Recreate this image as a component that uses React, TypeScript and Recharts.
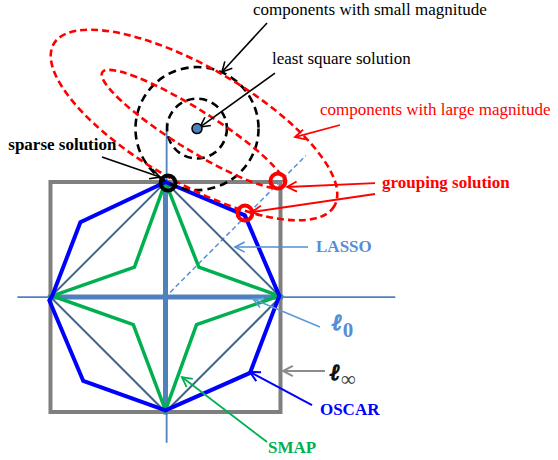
import React from 'react';
import { ComposedChart, Line, XAxis, YAxis, ReferenceLine, ReferenceDot } from 'recharts';

// coordinates are in units of the l-infinity box half width, origin at the box centre
const linfBox = [{ x: -1, y: 1 }, { x: 1, y: 1 }, { x: 1, y: -1 }, { x: -1, y: -1 }, { x: -1, y: 1 }];
const lassoBall = [{ x: 0, y: 1 }, { x: 1, y: 0 }, { x: 0, y: -1 }, { x: -1, y: 0 }, { x: 0, y: 1 }];
const oscarBall = [
  { x: 0, y: 1 }, { x: 0.69, y: 0.71 }, { x: 0.99, y: 0.01 }, { x: 0.735, y: -0.66 },
  { x: 0, y: -0.985 }, { x: -0.715, y: -0.73 }, { x: -1.01, y: -0.03 }, { x: -0.985, y: 0.01 },
  { x: -0.74, y: 0.65 }, { x: 0, y: 1 },
];
const smapBall = [
  { x: 0, y: 1 }, { x: 0.29, y: 0.26 }, { x: 0.99, y: 0.01 }, { x: 0.27, y: -0.24 },
  { x: 0, y: -0.985 }, { x: -0.28, y: -0.24 }, { x: -0.985, y: 0.01 }, { x: -0.27, y: 0.26 }, { x: 0, y: 1 },
];
const l0Horizontal = [{ x: -1, y: 0 }, { x: 1, y: 0 }];
const l0Vertical = [{ x: 0, y: -1 }, { x: 0, y: 1 }];
const axisH = [{ x: -1.28, y: 0 }, { x: 1.99, y: 0 }];
const axisV = [{ x: 0.01, y: 1.51 }, { x: 0.01, y: -1.26 }];
const diagonal = [{ x: 0.04, y: 0.04 }, { x: 1.22, y: 1.23 }];

// least squares solution and its contours
const lsPoint = { x: 0.274, y: 1.465 };
const lsCircleRadii = [0.26, 0.535];
const redEllipses = [
  { cx: 0.248, cy: 1.496, a: 1.409, b: 0.504, tilt: 30 },
  { cx: 0.239, cy: 1.461, a: 0.93, b: 0.174, tilt: 32 },
];

const sparsePoint = { x: 0.022, y: 0.991 };
const groupingPoints = [{ x: 0.978, y: 1.009 }, { x: 0.691, y: 0.73 }];

// arrows: [fromX, fromY, toX, toY]
const blackArrows = [
  [0.883, 2.383, 0.491, 1.957],
  [0.952, 1.948, 0.3, 1.478],
  [-0.552, 1.217, -0.048, 1.043],
];
const redArrows = [
  [1.517, 1.496, 1.126, 1.391],
  [1.822, 0.991, 1.057, 0.957],
  [1.822, 0.896, 0.752, 0.739],
];
const lassoArrow = [1.239, 0.435, 0.604, 0.435];
const l0Arrow = [1.343, -0.261, 0.761, -0.017];
const linfArrow = [1.387, -0.643, 1.022, -0.643];
const oscarArrow = [1.274, -0.939, 0.735, -0.652];
const smapArrow = [0.883, -1.261, 0.143, -0.696];

const notes = [
  { text: 'components with small magnitude', x: 0.761, y: 2.457 },
  { text: 'least square solution', x: 0.926, y: 2.026 },
  { text: 'components with large magnitude', x: 1.343, y: 1.587 },
  { text: 'grouping solution', x: 1.883, y: 0.948 },
  { text: 'sparse solution', x: -1.367, y: 1.278 },
  { text: 'LASSO', x: 1.309, y: 0.396 },
  { text: 'OSCAR', x: 1.343, y: -1.026 },
  { text: 'SMAP', x: 0.891, y: -1.357 },
];
const normNotes = [
  { main: 'ℓ', sub: '0', x: 1.448, y: -0.287 },
  { main: 'ℓ', sub: '∞', x: 1.43, y: -0.722 },
];

const SERIF = "'Liberation Serif', 'Times New Roman', serif";
const noteStyles = [
  { fill: '#000000', fontWeight: 'normal' },
  { fill: '#000000', fontWeight: 'normal' },
  { fill: '#FF0000', fontWeight: 'normal' },
  { fill: '#FF0000', fontWeight: 'bold' },
  { fill: '#000000', fontWeight: 'bold' },
  { fill: '#558ED5', fontWeight: 'bold' },
  { fill: '#0000FF', fontWeight: 'bold' },
  { fill: '#00B050', fontWeight: 'bold' },
];
const normStyles = [
  { main: '#558ED5', sub: '#558ED5', dy: 7 },
  { main: '#111111', sub: '#404040', dy: 6 },
];

const ArrowShape = (p: any) => {
  const { x1, y1, x2, y2, stroke, strokeWidth } = p;
  const ang = Math.atan2(y2 - y1, x2 - x1);
  const len = 11;
  const spread = 0.48;
  const ax = x2 - len * Math.cos(ang - spread);
  const ay = y2 - len * Math.sin(ang - spread);
  const bx = x2 - len * Math.cos(ang + spread);
  const by = y2 - len * Math.sin(ang + spread);
  return (
    <g>
      <line x1={x1} y1={y1} x2={x2} y2={y2} stroke={stroke} strokeWidth={strokeWidth} />
      <polyline points={`${ax},${ay} ${x2},${y2} ${bx},${by}`} fill="none" stroke={stroke} strokeWidth={strokeWidth} />
    </g>
  );
};

const EllipseShape = (p: any) => {
  const { x1, y1, x2, y2, stroke, strokeWidth, strokeDasharray, ratio } = p;
  const cx = (x1 + x2) / 2;
  const cy = (y1 + y2) / 2;
  const rx = Math.hypot(x2 - x1, y2 - y1) / 2;
  const ang = (Math.atan2(y2 - y1, x2 - x1) * 180) / Math.PI;
  return (
    <ellipse cx={cx} cy={cy} rx={rx} ry={rx * ratio} transform={`rotate(${ang} ${cx} ${cy})`}
      fill="none" stroke={stroke} strokeWidth={strokeWidth} strokeDasharray={strokeDasharray} />
  );
};

const CircleShape = (p: any) => {
  const { x1, y1, x2, y2, stroke, strokeWidth, strokeDasharray } = p;
  return (
    <circle cx={x1} cy={y1} r={Math.hypot(x2 - x1, y2 - y1)} fill="none"
      stroke={stroke} strokeWidth={strokeWidth} strokeDasharray={strokeDasharray} />
  );
};

const arrowLine = (a: number[], color: string, key: string, width = 1.6) => (
  <ReferenceLine key={key} segment={[{ x: a[0], y: a[1] }, { x: a[2], y: a[3] }]}
    stroke={color} strokeWidth={width} shape={(p: any) => <ArrowShape {...p} />} />
);

const path = (data: { x: number; y: number }[], color: string, width: number, key: string, dash?: string) => (
  <Line key={key} data={data} dataKey="y" type="linear" stroke={color} strokeWidth={width}
    strokeDasharray={dash} strokeLinejoin="miter" strokeLinecap={dash ? 'butt' : 'square'}
    dot={false} activeDot={false} isAnimationActive={false} />
);

export default function App() {
  return (
    <div style={{ position: 'fixed', left: 0, top: 0, background: '#fff' }}>
      <ComposedChart width={558} height={460} margin={{ top: 0, right: 0, bottom: 0, left: 0 }}>
        <XAxis type="number" dataKey="x" domain={[-1.439, 3.413]} hide allowDataOverflow />
        <YAxis type="number" dataKey="y" domain={[-1.417, 2.583]} hide allowDataOverflow />

        {path(linfBox, '#7F7F7F', 4, 'box')}
        {path(axisH, '#4F81BD', 1.8, 'axh')}
        {path(axisV, '#4F81BD', 1.8, 'axv')}
        {path(l0Horizontal, '#4F81BD', 5, 'l0h')}
        {path(l0Vertical, '#4F81BD', 5, 'l0v')}
        {path(diagonal, '#5B8ED6', 1.5, 'diag', '5 3')}
        {path(lassoBall, '#41648C', 2, 'lasso')}
        {path(smapBall, '#00B050', 3.5, 'smap')}
        {path(oscarBall, '#0000FF', 4, 'oscar')}

        {lsCircleRadii.map((r, i) => (
          <ReferenceLine key={`c${i}`} segment={[{ x: lsPoint.x, y: lsPoint.y }, { x: lsPoint.x + r, y: lsPoint.y }]}
            stroke="#000000" strokeWidth={2.6} strokeDasharray="8 5" shape={(p: any) => <CircleShape {...p} />} />
        ))}
        {redEllipses.map((e, i) => {
          const dx = e.a * Math.cos((e.tilt * Math.PI) / 180);
          const dy = e.a * Math.sin((e.tilt * Math.PI) / 180);
          return (
            <ReferenceLine key={`e${i}`} segment={[{ x: e.cx - dx, y: e.cy + dy }, { x: e.cx + dx, y: e.cy - dy }]}
              stroke="#FF0000" strokeWidth={2.6} strokeDasharray="7 4"
              shape={(p: any) => <EllipseShape {...p} ratio={e.b / e.a} />} />
          );
        })}

        {blackArrows.map((a, i) => arrowLine(a, '#000000', `ba${i}`))}
        {redArrows.map((a, i) => arrowLine(a, '#FF0000', `ra${i}`, 1.8))}
        {arrowLine(lassoArrow, '#558ED5', 'la')}
        {arrowLine(l0Arrow, '#5B9BD5', 'l0a')}
        {arrowLine(linfArrow, '#8C8C8C', 'lia', 2)}
        {arrowLine(oscarArrow, '#0000FF', 'oa', 2)}
        {arrowLine(smapArrow, '#00B050', 'sa', 1.8)}

        <ReferenceDot x={lsPoint.x} y={lsPoint.y} r={5} fill="#4F81BD" stroke="#000000" strokeWidth={1.5} />
        <ReferenceDot x={sparsePoint.x} y={sparsePoint.y} r={7.5} fill="none" stroke="#000000" strokeWidth={4} />
        {groupingPoints.map((g, i) => (
          <ReferenceDot key={`g${i}`} x={g.x} y={g.y} r={7.5} fill="none" stroke="#FF0000" strokeWidth={4} />
        ))}

        {notes.map((n, i) => (
          <ReferenceDot key={`n${i}`} x={n.x} y={n.y} r={0}
            shape={(p: any) => (
              <text x={p.cx} y={p.cy} fontFamily={SERIF} fontSize={17} fill={noteStyles[i].fill}
                fontWeight={noteStyles[i].fontWeight}>{n.text}</text>
            )} />
        ))}
        {normNotes.map((n, i) => (
          <ReferenceDot key={`m${i}`} x={n.x} y={n.y} r={0}
            shape={(p: any) => (
              <text x={p.cx} y={p.cy}>
                <tspan fontFamily="'DejaVu Serif', serif" fontSize={23} fontStyle="italic" fontWeight="bold"
                  fill={normStyles[i].main} stroke={normStyles[i].main} strokeWidth={1.3}>{n.main}</tspan>
                <tspan fontFamily={SERIF} fontSize={21} dy={normStyles[i].dy} dx={1} fill={normStyles[i].sub}
                  stroke="none" fontWeight={i === 0 ? 'bold' : 'normal'}>{n.sub}</tspan>
              </text>
            )} />
        ))}
      </ComposedChart>
    </div>
  );
}
